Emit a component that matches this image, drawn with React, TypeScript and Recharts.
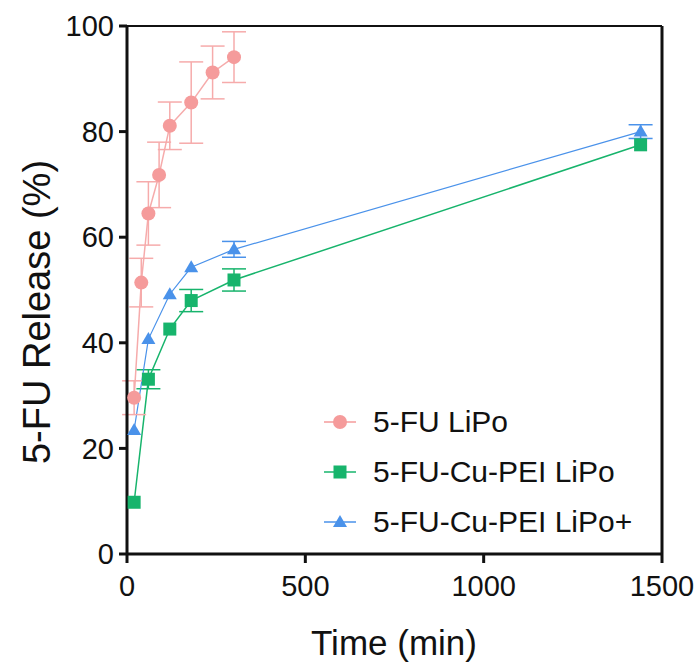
import {
  ErrorBar,
  Legend,
  Line,
  LineChart,
  ReferenceLine,
  XAxis,
  YAxis,
} from "recharts";

// time points (min)
const freeTime = [20, 40, 60, 90, 120, 180, 240, 300];
const freeRelease = [29.6, 51.4, 64.5, 71.8, 81.1, 85.5, 91.2, 94.1];
const freeErr = [3.2, 4.6, 6.0, 6.2, 4.5, 7.7, 5.0, 4.8];

const cuTime = [20, 60, 120, 180, 300, 1440];
const cuRelease = [9.8, 33.1, 42.6, 48.0, 51.9, 77.5];
const cuErr = [0, 1.8, 0, 2.1, 2.1, 0];

const cuPlusTime = [20, 60, 120, 180, 300, 1440];
const cuPlusRelease = [23.5, 40.7, 49.2, 54.3, 57.7, 80.0];
const cuPlusErr = [0, 0, 0, 0, 1.5, 1.3];

const xTicks = [0, 500, 1000, 1500];
const yTicks = [0, 20, 40, 60, 80, 100];

const PINK = "#F59B9B";
const GREEN = "#17B46C";
const BLUE = "#4A92EA";
const FONT = "'Liberation Sans', Arial, sans-serif";

const toRows = (t: number[], y: number[], e: number[]) =>
  t.map((tt, i) => ({ t: tt, y: y[i], e: e[i] }));

const freeData = toRows(freeTime, freeRelease, freeErr);
const cuData = toRows(cuTime, cuRelease, cuErr);
const cuPlusData = toRows(cuPlusTime, cuPlusRelease, cuPlusErr);

const squareDot = (props: any) => {
  const { cx, cy, index } = props;
  return (
    <rect key={"sq" + index} x={cx - 6.5} y={cy - 6.5} width={13} height={13} fill={GREEN} />
  );
};

const triangleDot = (props: any) => {
  const { cx, cy, index } = props;
  return (
    <polygon
      key={"tr" + index}
      points={`${cx},${cy - 7} ${cx + 7},${cy + 5} ${cx - 7},${cy + 5}`}
      fill={BLUE}
    />
  );
};

const legendItems = [
  { name: "5-FU LiPo", color: PINK, shape: "circle" },
  { name: "5-FU-Cu-PEI LiPo", color: GREEN, shape: "square" },
  { name: "5-FU-Cu-PEI LiPo+", color: BLUE, shape: "triangle" },
];

const renderLegend = () => (
  <div style={{ fontFamily: FONT, fontSize: 30, color: "#111" }}>
    {legendItems.map((it) => (
      <div key={it.name} style={{ display: "flex", alignItems: "center", height: 50 }}>
        <svg width={32} height={20}>
          <line x1={0} y1={10} x2={32} y2={10} stroke={it.color} strokeWidth={1.5} />
          {it.shape === "circle" && <circle cx={16} cy={10} r={7} fill={it.color} />}
          {it.shape === "square" && <rect x={9.5} y={3.5} width={13} height={13} fill={it.color} />}
          {it.shape === "triangle" && (
            <polygon points="16,3 23,15 9,15" fill={it.color} />
          )}
        </svg>
        <span style={{ marginLeft: 17, lineHeight: "30px" }}>{it.name}</span>
      </div>
    ))}
  </div>
);

const App = () => {
  return (
    <div style={{ position: "absolute", left: 0, top: 0 }}>
      <LineChart
        width={699}
        height={666}
        margin={{ top: 26, right: 37, bottom: 0, left: 0 }}
      >
        <XAxis
          type="number"
          dataKey="t"
          domain={[0, 1500]}
          ticks={xTicks}
          height={112}
          stroke="#111"
          strokeWidth={3}
          tickSize={9}
          tickMargin={12}
          tick={{ fill: "#111", fontSize: 29, fontFamily: FONT }}
          label={{
            content: () => (
              <text
                x={394}
                y={655}
                textAnchor="middle"
                fontSize={35}
                fontFamily={FONT}
                fill="#111"
              >
                Time (min)
              </text>
            ),
          }}
        />
        <YAxis
          type="number"
          domain={[0, 100]}
          ticks={yTicks}
          width={127}
          stroke="#111"
          strokeWidth={3}
          tickSize={8}
          tickMargin={5}
          tick={{ fill: "#111", fontSize: 29, fontFamily: FONT }}
          label={{
            content: () => (
              <text
                x={37}
                y={312}
                transform="rotate(-90 37 312)"
                textAnchor="middle"
                dominantBaseline="central"
                fontSize={38}
                fontFamily={FONT}
                fill="#111"
              >
                5-FU Release (%)
              </text>
            ),
          }}
        />
        <ReferenceLine y={100} stroke="#111" strokeWidth={2} />
        <ReferenceLine x={1500} stroke="#111" strokeWidth={3} />
        <Legend
          layout="vertical"
          align="center"
          verticalAlign="middle"
          wrapperStyle={{ left: 324, top: 397, width: "auto" }}
          content={renderLegend}
        />
        <Line
          data={cuData}
          dataKey="y"
          stroke={GREEN}
          strokeWidth={1.5}
          dot={squareDot}
          activeDot={false}
          isAnimationActive={false}
        >
          <ErrorBar dataKey="e" direction="y" width={12} stroke={GREEN} strokeWidth={1.5} isAnimationActive={false} />
        </Line>
        <Line
          data={cuPlusData}
          dataKey="y"
          stroke={BLUE}
          strokeWidth={1.2}
          dot={triangleDot}
          activeDot={false}
          isAnimationActive={false}
        >
          <ErrorBar dataKey="e" direction="y" width={12} stroke={BLUE} strokeWidth={1.5} isAnimationActive={false} />
        </Line>
        <Line
          data={freeData}
          dataKey="y"
          stroke="#F6ABAB"
          strokeWidth={1.5}
          dot={{ r: 7, fill: PINK, stroke: "none" }}
          activeDot={false}
          isAnimationActive={false}
        >
          <ErrorBar dataKey="e" direction="y" width={12} stroke="#F6ABAB" strokeWidth={1.5} isAnimationActive={false} />
        </Line>
      </LineChart>
    </div>
  );
};

export default App;
